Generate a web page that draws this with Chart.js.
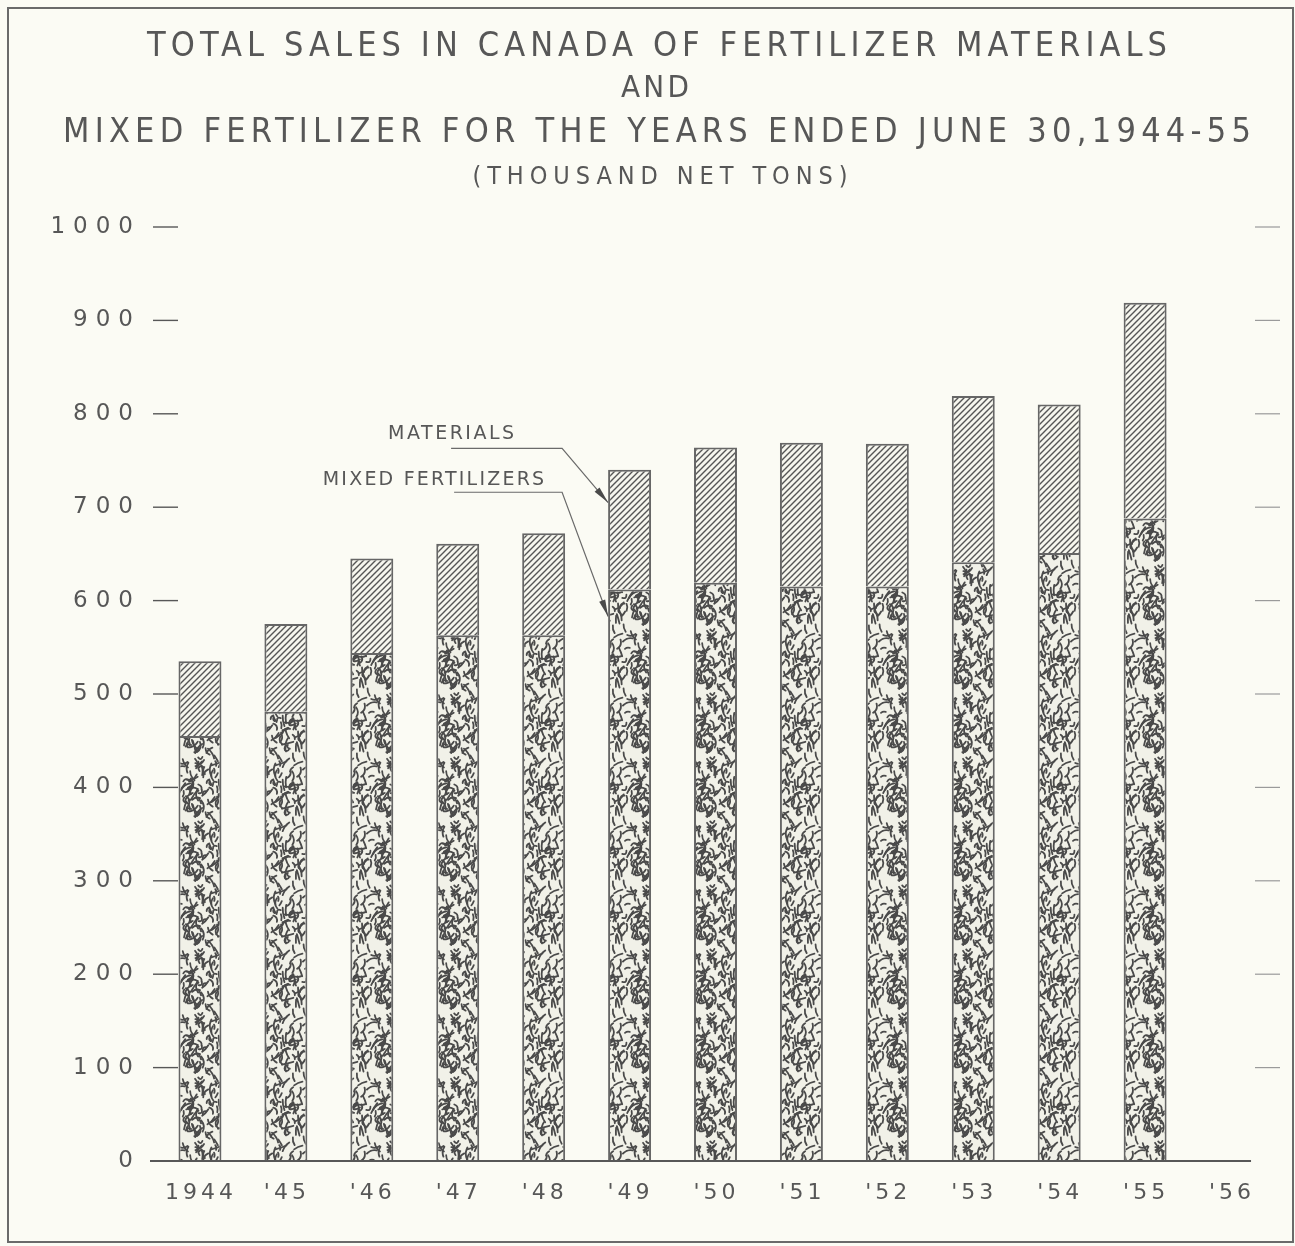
<!DOCTYPE html>
<html>
<head>
<meta charset="utf-8">
<script src="https://cdn.jsdelivr.net/npm/chart.js@4.4.1/dist/chart.umd.min.js"></script>
<style>
  html, body { margin: 0; padding: 0; background: #fbfbf4; }
  #wrap { width: 1295px; height: 1246px; position: relative; }
</style>
</head>
<body>
<div id="wrap"><canvas id="myChart"></canvas></div>
<script>
// datos (miles de toneladas netas)
const years = ['1944', "'45", "'46", "'47", "'48", "'49", "'50", "'51", "'52", "'53", "'54", "'55", "'56"];
const mixedFertilizers = [455, 481, 544, 563, 563, 612, 619, 615, 615, 641, 651, 688, null];
const materials = [80, 94, 101, 98, 109, 128, 145, 154, 153, 178, 159, 231, null];
const yMin = 0;
const yMax = 1000;
const yStep = 100;

const titleLines = [
  'TOTAL SALES IN CANADA OF FERTILIZER MATERIALS',
  'AND',
  'MIXED FERTILIZER FOR THE YEARS ENDED JUNE 30,1944-55'
];
const subtitle = '(THOUSAND NET TONS)';

const ink = '#575757';
const paper = '#fbfbf4';

// tramas
function makeHatch() {
  const c = document.createElement('canvas');
  c.width = 6; c.height = 6;
  const g = c.getContext('2d');
  g.fillStyle = '#f6f6ee';
  g.fillRect(0, 0, 6, 6);
  g.strokeStyle = '#555';
  g.lineWidth = 1.4;
  g.beginPath();
  g.moveTo(-1, 7); g.lineTo(7, -1);
  g.moveTo(-2, 2); g.lineTo(2, -2);
  g.moveTo(4, 8); g.lineTo(8, 4);
  g.stroke();
  return g.createPattern(c, 'repeat');
}

function makeStipple() {
  const n = 64;
  const c = document.createElement('canvas');
  c.width = n; c.height = n;
  const g = c.getContext('2d');
  g.fillStyle = '#f1f1e8';
  g.fillRect(0, 0, n, n);
  let s = 12345;
  const next = () => (s = (s * 16807) % 2147483647) / 2147483647;
  g.strokeStyle = '#4a4a4a';
  g.lineWidth = 1.8;
  g.lineCap = 'round';
  for (let i = 0; i < 112; i++) {
    const x = next() * n, y = next() * n;
    const a = -1.1 + (next() - 0.5) * 2.2;
    const len = 4 + next() * 8;
    const bend = (next() - 0.5) * 8;
    for (const dx of [-n, 0, n]) {
      for (const dy of [-n, 0, n]) {
        const x0 = x + dx, y0 = y + dy;
        const x1 = x0 + Math.cos(a) * len, y1 = y0 + Math.sin(a) * len;
        g.beginPath();
        g.moveTo(x0, y0);
        g.quadraticCurveTo((x0 + x1) / 2 + bend * Math.sin(a), (y0 + y1) / 2 - bend * Math.cos(a), x1, y1);
        g.stroke();
      }
    }
  }
  return g.createPattern(c, 'repeat');
}

// texto con espaciado entre letras
function spacedText(ctx, text, x, y, font, ls, align) {
  ctx.font = font;
  ctx.letterSpacing = '0px';
  const w0 = ctx.measureText(text).width;
  const w = w0 + ls * (text.length - 1);
  let left = x;
  if (align === 'center') left = x - w / 2;
  if (align === 'right') left = x - w;
  ctx.letterSpacing = ls + 'px';
  ctx.textAlign = 'left';
  ctx.fillText(text, left, y);
  ctx.letterSpacing = '0px';
}

function fitText(ctx, text, cx, y, font, width) {
  ctx.font = font;
  ctx.letterSpacing = '0px';
  const w0 = ctx.measureText(text).width;
  const ls = (width - w0) / (text.length - 1);
  spacedText(ctx, text, cx, y, font, ls, 'center');
}

function arrow(ctx, pts) {
  ctx.beginPath();
  ctx.moveTo(pts[0][0], pts[0][1]);
  for (let i = 1; i < pts.length; i++) ctx.lineTo(pts[i][0], pts[i][1]);
  ctx.stroke();
  const [ax, ay] = pts[pts.length - 2];
  const [bx, by] = pts[pts.length - 1];
  const ang = Math.atan2(by - ay, bx - ax);
  const L = 17, W = 3.2;
  ctx.beginPath();
  ctx.moveTo(bx, by);
  ctx.lineTo(bx - L * Math.cos(ang) + W * Math.sin(ang), by - L * Math.sin(ang) - W * Math.cos(ang));
  ctx.lineTo(bx - L * Math.cos(ang) - W * Math.sin(ang), by - L * Math.sin(ang) + W * Math.cos(ang));
  ctx.closePath();
  ctx.fill();
}

const paperPlugin = {
  id: 'paper',
  beforeDraw(chart) {
    const ctx = chart.ctx;
    ctx.save();
    ctx.fillStyle = paper;
    ctx.fillRect(0, 0, chart.width, chart.height);
    ctx.strokeStyle = '#6a6a6a';
    ctx.lineWidth = 2;
    ctx.strokeRect(8, 8, chart.width - 10, chart.height - 12);
    ctx.restore();
  },
  afterDraw(chart) {
    const ctx = chart.ctx;
    const x = chart.scales.x;
    const y = chart.scales.y;
    const area = chart.chartArea;
    ctx.save();
    ctx.fillStyle = ink;
    ctx.strokeStyle = ink;
    ctx.textBaseline = 'middle';

    // titulos
    const cx = 657;
    const tf = '34px "DejaVu Sans Condensed", "DejaVu Sans"';
    fitText(ctx, titleLines[0], cx, 47, tf, 1020);
    fitText(ctx, titleLines[1], cx - 2, 89, '31px "DejaVu Sans Condensed", "DejaVu Sans"', 68);
    fitText(ctx, titleLines[2], cx, 133, tf, 1188);
    fitText(ctx, subtitle, cx + 3, 177, '25px "DejaVu Sans Condensed", "DejaVu Sans"', 375);

    // eje base
    const y0 = y.getPixelForValue(0);
    ctx.lineWidth = 2;
    ctx.beginPath();
    ctx.moveTo(area.left - 7, y0);
    ctx.lineTo(x.getPixelForValue(years.length - 1) + 20, y0);
    ctx.stroke();

    // marcas y etiquetas del eje y
    y.ticks.forEach(t => {
      const py = y.getPixelForValue(t.value);
      spacedText(ctx, String(t.value), area.left - 24, py, '23px "DejaVu Sans"', 8, 'right');
      if (t.value === 0) return;
      ctx.lineWidth = 1.4;
      ctx.strokeStyle = ink;
      ctx.beginPath();
      ctx.moveTo(area.left - 4, py);
      ctx.lineTo(area.left + 21, py);
      ctx.stroke();
      ctx.strokeStyle = '#9a9a9a';
      ctx.lineWidth = 1.2;
      ctx.beginPath();
      ctx.moveTo(area.right - 19, py);
      ctx.lineTo(area.right + 6, py);
      ctx.stroke();
    });

    // etiquetas del eje x
    ctx.fillStyle = ink;
    years.forEach((lab, i) => {
      spacedText(ctx, lab, x.getPixelForValue(i) - 1, y0 + 32, '22px "DejaVu Sans"', 4, 'center');
    });

    // rotulos con flechas hacia la barra de 1949
    const bar = chart.getDatasetMeta(1).data[5];
    const tipX = bar.x - bar.width / 2;
    ctx.strokeStyle = '#6a6a6a';
    ctx.fillStyle = '#4a4a4a';
    ctx.lineWidth = 1.2;
    const yMat = y.getPixelForValue(763);
    const yMix = y.getPixelForValue(716);
    arrow(ctx, [[tipX - 157, yMat], [tipX - 46, yMat], [tipX, y.getPixelForValue(705)]]);
    arrow(ctx, [[tipX - 154, yMix], [tipX - 46, yMix], [tipX, y.getPixelForValue(583)]]);
    ctx.fillStyle = ink;
    spacedText(ctx, 'MATERIALS', tipX - 94, y.getPixelForValue(778), '19px "DejaVu Sans"', 2.5, 'right');
    spacedText(ctx, 'MIXED FERTILIZERS', tipX - 64, y.getPixelForValue(729), '19px "DejaVu Sans"', 2.2, 'right');

    ctx.restore();
  }
};

const data = {
  labels: years,
  datasets: [
    {
      label: 'Mixed fertilizers',
      data: mixedFertilizers,
      backgroundColor: makeStipple(),
      borderColor: '#666',
      borderWidth: 2
    },
    {
      label: 'Materials',
      data: materials,
      backgroundColor: makeHatch(),
      borderColor: '#666',
      borderWidth: 2
    }
  ]
};

const config = {
  type: 'bar',
  data: data,
  options: {
    responsive: true,
    maintainAspectRatio: false,
    animation: false,
    layout: { padding: { top: 227, right: 21, left: 0, bottom: 0 } },
    categoryPercentage: 1,
    barPercentage: 0.5,
    plugins: {
      legend: { display: false },
      tooltip: { enabled: false }
    },
    scales: {
      x: {
        stacked: true,
        grid: { display: false },
        border: { display: false },
        ticks: { display: false },
        afterFit(s) { s.height = 85; }
      },
      y: {
        stacked: true,
        min: yMin,
        max: yMax,
        ticks: { display: false, stepSize: yStep },
        grid: { display: false },
        border: { display: false },
        afterFit(s) { s.width = 157; }
      }
    }
  },
  plugins: [paperPlugin]
};

const myChart = new Chart(document.getElementById('myChart'), config);
</script>
</body>
</html>
